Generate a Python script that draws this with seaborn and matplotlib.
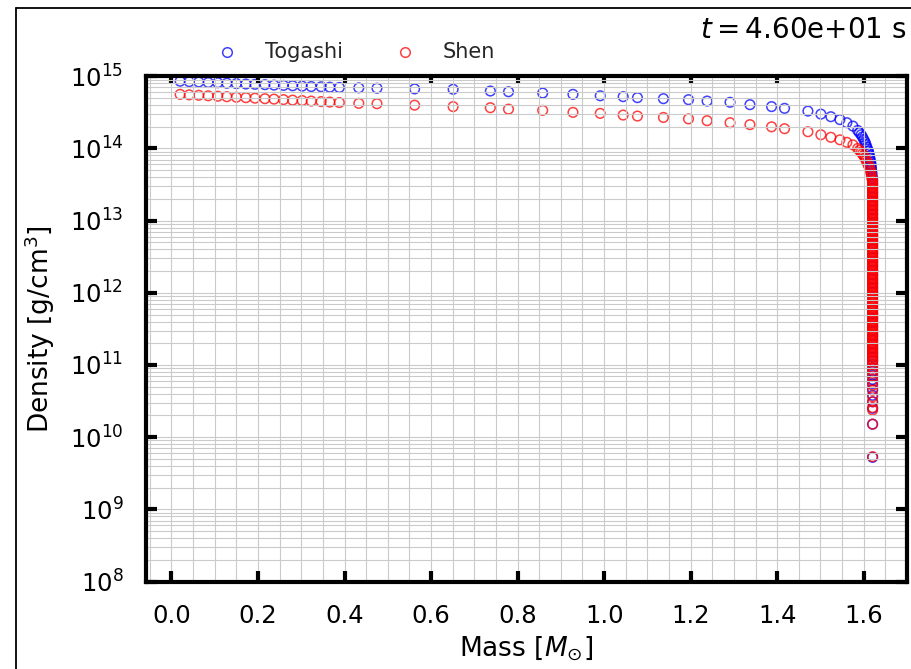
import numpy as np
import pandas as pd
import matplotlib
matplotlib.use("Agg")
import matplotlib.pyplot as plt
import seaborn as sns
from matplotlib.lines import Line2D
from matplotlib.ticker import MultipleLocator, LogLocator

# ---------------- data ----------------
# shared mass grid of the inner profile [M_sun]
profile_mass = [0.020, 0.041, 0.063, 0.085, 0.107, 0.128, 0.150, 0.172, 0.193,
                0.216, 0.237, 0.259, 0.280, 0.302, 0.323, 0.346, 0.366, 0.388,
                0.433, 0.475, 0.562, 0.651, 0.737, 0.779, 0.858, 0.928, 0.991,
                1.044, 1.077, 1.137, 1.195, 1.238, 1.291, 1.337, 1.387, 1.417,
                1.471, 1.501, 1.524, 1.545, 1.561, 1.575]

togashi_profile_logrho = [14.932, 14.926, 14.921, 14.914, 14.911, 14.904, 14.899,
                          14.893, 14.889, 14.884, 14.878, 14.874, 14.869, 14.864,
                          14.858, 14.855, 14.849, 14.845, 14.840, 14.835, 14.825,
                          14.820, 14.796, 14.786, 14.768, 14.750, 14.730, 14.718,
                          14.704, 14.690, 14.676, 14.657, 14.640, 14.607, 14.580,
                          14.556, 14.518, 14.476, 14.440, 14.400, 14.357, 14.310]

shen_profile_logrho = [14.750, 14.743, 14.737, 14.730, 14.724, 14.717, 14.710,
                       14.704, 14.697, 14.690, 14.684, 14.677, 14.670, 14.664,
                       14.657, 14.650, 14.643, 14.636, 14.625, 14.620, 14.600,
                       14.580, 14.565, 14.545, 14.528, 14.500, 14.486, 14.463,
                       14.449, 14.430, 14.410, 14.385, 14.357, 14.330, 14.300,
                       14.274, 14.232, 14.190, 14.155, 14.120, 14.085, 14.050]

# knee of the profile near the surface
togashi_knee_mass = [1.586, 1.590, 1.594, 1.597, 1.600, 1.603, 1.605, 1.607, 1.609,
                     1.611, 1.612, 1.613, 1.614, 1.615, 1.616, 1.617, 1.617, 1.618,
                     1.618, 1.619, 1.619, 1.620]
togashi_knee_logrho = [14.25, 14.22, 14.19, 14.16, 14.125, 14.09, 14.056, 14.02, 13.99,
                       13.96, 13.93, 13.90, 13.87, 13.84, 13.81, 13.78, 13.75, 13.72,
                       13.69, 13.66, 13.63, 13.60]

shen_knee_mass = [1.586, 1.590, 1.594, 1.597, 1.600, 1.603, 1.605, 1.608, 1.610,
                  1.612, 1.614, 1.616, 1.617, 1.618, 1.619]
shen_knee_logrho = [14.00, 13.975, 13.95, 13.925, 13.90, 13.87, 13.84, 13.81, 13.78,
                    13.75, 13.72, 13.685, 13.65, 13.615, 13.58]

# outer zones, all at the surface mass
surface_mass = 1.6205
togashi_surface_logrho = [13.57, 13.51, 13.45, 13.39, 13.33, 13.27, 13.21, 13.15, 13.09,
                          13.03, 12.97, 12.91, 12.85, 12.79, 12.73, 12.67, 12.61, 12.55,
                          12.49, 12.43, 12.37, 12.31, 12.25, 12.19, 12.13, 12.07, 12.01,
                          11.95, 11.89, 11.83, 11.77, 11.71, 11.65, 11.59, 11.53, 11.47,
                          11.41, 11.35, 11.29, 11.23, 11.17, 11.11, 11.06, 11.01, 10.96,
                          10.91, 10.86, 10.80, 10.74, 10.66, 10.58, 10.49, 10.40, 10.18, 9.72]
shen_surface_logrho = [
    13.56, 13.54, 13.52, 13.50, 13.48, 13.46, 13.44, 13.42, 13.40, 13.38, 13.36, 13.34,
    13.32, 13.30, 13.28, 13.26, 13.24, 13.22, 13.20, 13.18, 13.16, 13.14, 13.12, 13.10,
    13.08, 13.06, 13.04, 13.02, 13.00,
    12.98, 12.96, 12.94, 12.92, 12.90, 12.88, 12.86, 12.84, 12.82, 12.80, 12.78, 12.76,
    12.74, 12.72, 12.70, 12.68, 12.66, 12.64, 12.62, 12.60, 12.58, 12.56, 12.54, 12.52,
    12.50, 12.48, 12.46, 12.44, 12.42, 12.40, 12.38, 12.36, 12.34, 12.32, 12.30, 12.28,
    12.26, 12.24, 12.22, 12.20, 12.18, 12.16, 12.14, 12.12, 12.10, 12.08, 12.06, 12.04,
    12.02, 12.00,
    11.98, 11.96, 11.94, 11.92, 11.90, 11.88, 11.86, 11.84, 11.82, 11.80, 11.78, 11.76,
    11.74, 11.72, 11.70, 11.68, 11.66, 11.64, 11.62, 11.60, 11.58, 11.56, 11.54, 11.52,
    11.50, 11.48, 11.46, 11.44, 11.42, 11.40, 11.38, 11.36, 11.34, 11.32, 11.30, 11.28,
    11.26, 11.24, 11.22, 11.20, 11.18, 11.16, 11.14, 11.12, 11.10, 11.08, 11.06, 11.04,
    11.00, 10.96, 10.93, 10.885, 10.84, 10.78, 10.72, 10.65, 10.56, 10.49, 10.41,
    10.375, 10.18, 9.73]

series_labels = ["Togashi", "Shen"]
time_label = "4.60e+01 s"


def build(knee_m, knee_r, surf_r, prof_r):
    m = list(profile_mass) + list(knee_m) + [surface_mass] * len(surf_r)
    r = list(prof_r) + list(knee_r) + list(surf_r)
    return pd.DataFrame({"mass": m, "density": 10.0 ** np.array(r)})


df_tog = build(togashi_knee_mass, togashi_knee_logrho, togashi_surface_logrho, togashi_profile_logrho)
df_shen = build(shen_knee_mass, shen_knee_logrho, shen_surface_logrho, shen_profile_logrho)

# ---------------- plotting ----------------
sns.set_theme(style="white")
plt.rcParams["font.family"] = ["DejaVu Sans"]
plt.rcParams["mathtext.fontset"] = "dejavusans"

W, H = 912, 669
fig = plt.figure(figsize=(W / 100, H / 100), dpi=100)
fig.patch.set_facecolor("white")
left, right, top, bottom = 145.5, 907.0, 76.3, 581.5
ax = fig.add_axes([left / W, 1 - bottom / H, (right - left) / W, (bottom - top) / H])
ax.set_facecolor("white")

common = dict(marker="o", s=48, linewidth=1.1, alpha=0.75, facecolor="none", ax=ax)
sns.scatterplot(data=df_tog, x="mass", y="density", edgecolor="blue", color="blue",
                label=series_labels[0], **common)
sns.scatterplot(data=df_shen, x="mass", y="density", edgecolor="red", color="red",
                label=series_labels[1], **common)

ax.set_yscale("log")
ax.set_ylim(1e8, 1e15)
ax.set_xlim(-0.06, 1.70)
ax.xaxis.set_major_locator(MultipleLocator(0.2))
ax.xaxis.set_minor_locator(MultipleLocator(0.05))
ax.yaxis.set_major_locator(LogLocator(base=10, numticks=20))
ax.yaxis.set_minor_locator(LogLocator(base=10, subs=np.arange(2, 10), numticks=200))

ax.set_axisbelow("line")
ax.grid(True, which="both", color="#cacaca", linewidth=0.8)
ax.tick_params(which="major", direction="in", length=8, width=3,
               top=True, right=True, bottom=True, left=True,
               labelsize=17.5, pad=16, color="black", labelcolor="black")
ax.tick_params(which="minor", length=0)
for sp in ax.spines.values():
    sp.set_linewidth(3)
    sp.set_color("black")
    sp.set_visible(True)

# shorter ticks along the top edge
for t in ax.xaxis.get_major_ticks():
    t.tick2line.set_markersize(5)

ax.set_xlabel(r"Mass [$M_{\odot}$]", fontsize=19, color="black")
ax.set_ylabel(r"Density [g/cm$^3$]", fontsize=19, color="black")
ax.xaxis.set_label_coords(0.5, -0.105)
ax.yaxis.set_label_coords(-0.116, 0.5)

handles, labels = ax.get_legend_handles_labels()
ax.legend(handles, labels, loc="center", bbox_to_anchor=(351 / W, 1 - 52 / H),
          bbox_transform=fig.transFigure, ncol=2, frameon=False, fontsize=15,
          handletextpad=0.8, columnspacing=2.0)

fig.text(906 / W, 1 - 30 / H, r"$t = $" + time_label, ha="right", va="center",
         fontsize=20, color="black")

# figure frame (left and top edges visible)
fig.add_artist(Line2D([16 / W, 16 / W], [0, 1 - 8 / H], transform=fig.transFigure,
                      color="black", linewidth=1.3))
fig.add_artist(Line2D([16 / W, 1], [1 - 8 / H, 1 - 8 / H], transform=fig.transFigure,
                      color="black", linewidth=1.3))

fig.savefig("out.png", dpi=100)
